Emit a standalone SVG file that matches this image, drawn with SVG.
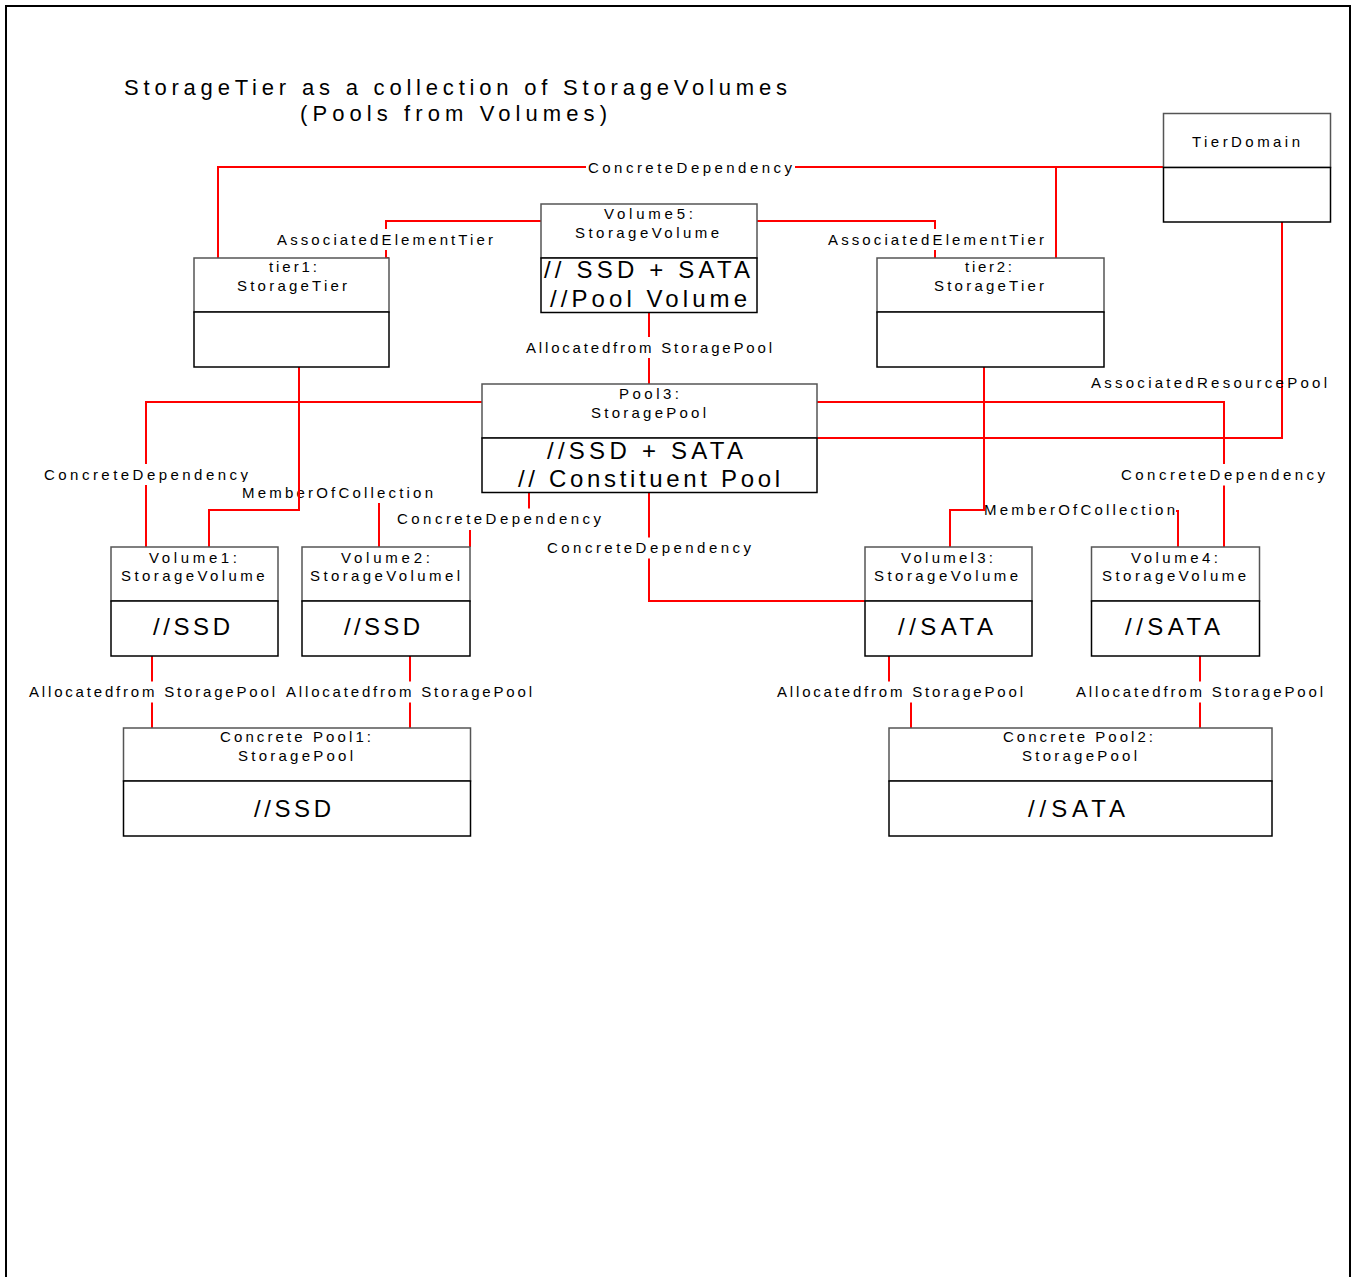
<svg xmlns="http://www.w3.org/2000/svg" width="1352" height="1277" viewBox="0 0 1352 1277">
<style>
.hdr{fill:#fff;stroke:#555;stroke-width:1.5}
.bd{fill:#fff;stroke:#000;stroke-width:1.5}
text{font-family:"Liberation Sans",Arial,sans-serif;font-size:15px;fill:#000}
.b{font-size:24px}
.ttl{font-size:22px}
.conn{fill:none;stroke:#ff0000;stroke-width:2}
.bg{fill:#fff}
</style>
<rect x="0" y="0" width="1352" height="1277" fill="#fff"/>
<path d="M6,1277 V6 H1350 V1277" fill="none" stroke="#000" stroke-width="2"/>
<g id="title">
<text class="ttl" x="124" y="95" textLength="663" lengthAdjust="spacing">StorageTier as a collection of StorageVolumes</text>
<text class="ttl" x="300" y="121" textLength="307" lengthAdjust="spacing">(Pools from Volumes)</text>
</g>
<g id="connectors">
<g id="c1"><path class="conn" d="M218,258 V167 H1163"/><path class="conn" d="M1056,258 V167"/>
<rect class="bg" x="586" y="157" width="209" height="21"/>
<text x="588" y="172.5" textLength="204" lengthAdjust="spacing">ConcreteDependency</text></g>
<g id="c3"><path class="conn" d="M541,221 H386 V258 H389"/>
<rect class="bg" x="275" y="229" width="220" height="21"/>
<text x="277" y="245" textLength="216" lengthAdjust="spacing">AssociatedElementTier</text></g>
<g id="c4"><path class="conn" d="M757,221 H935 V258"/>
<rect class="bg" x="826" y="229" width="220" height="21"/>
<text x="828" y="245" textLength="216" lengthAdjust="spacing">AssociatedElementTier</text></g>
<g id="c5"><path class="conn" d="M649,312 V384"/>
<rect class="bg" x="524" y="337" width="250" height="21"/>
<text x="526" y="353" textLength="246" lengthAdjust="spacing">Allocatedfrom StoragePool</text></g>
<g id="c6"><path class="conn" d="M1282,222 V438 H817"/>
<text x="1091" y="388" textLength="236" lengthAdjust="spacing">AssociatedResourcePool</text></g>
<g id="c7"><path class="conn" d="M482,402 H146 V547"/>
<rect class="bg" x="42" y="464" width="208" height="21"/>
<text x="44" y="480" textLength="204" lengthAdjust="spacing">ConcreteDependency</text></g>
<g id="c8"><path class="conn" d="M320,490 H379 V547"/>
<rect class="bg" x="240" y="482" width="195" height="21"/>
<text x="242" y="497.7" textLength="191" lengthAdjust="spacing">MemberOfCollection</text></g>
<g id="c9"><path class="conn" d="M299,367 V510 H209 V547"/></g>
<g id="c10"><path class="conn" d="M529,492 V518 H470 V547"/>
<rect class="bg" x="395" y="508.5" width="208" height="21.5"/>
<text x="397" y="524" textLength="204" lengthAdjust="spacing">ConcreteDependency</text></g>
<g id="c11"><path class="conn" d="M649,492 V601 H865"/>
<rect class="bg" x="545" y="537.5" width="208" height="21"/>
<text x="547" y="552.7" textLength="204" lengthAdjust="spacing">ConcreteDependency</text></g>
<g id="c12"><path class="conn" d="M1100,511 H1178 V547"/>
<rect class="bg" x="985" y="499" width="191" height="21"/>
<text x="984" y="515" textLength="191" lengthAdjust="spacing">MemberOfCollection</text></g>
<g id="c13"><path class="conn" d="M984,367 V510 H950 V547"/></g>
<g id="c14"><path class="conn" d="M817,402 H1224 V547"/>
<rect class="bg" x="1119" y="464" width="208" height="21.5"/>
<text x="1121" y="480" textLength="204" lengthAdjust="spacing">ConcreteDependency</text></g>
<g id="c15"><path class="conn" d="M152,656 V728"/>
<rect class="bg" x="27" y="681.5" width="250" height="21"/>
<text x="29" y="697" textLength="246" lengthAdjust="spacing">Allocatedfrom StoragePool</text></g>
<g id="c16"><path class="conn" d="M410,656 V728"/>
<rect class="bg" x="284" y="681.5" width="250" height="21"/>
<text x="286" y="697" textLength="246" lengthAdjust="spacing">Allocatedfrom StoragePool</text></g>
<g id="c17"><path class="conn" d="M889,656 V690 H911 V728"/>
<rect class="bg" x="775" y="681.5" width="250" height="21"/>
<text x="777" y="697" textLength="246" lengthAdjust="spacing">Allocatedfrom StoragePool</text></g>
<g id="c18"><path class="conn" d="M1200,656 V728"/>
<rect class="bg" x="1074" y="681.5" width="251" height="21"/>
<text x="1076" y="697" textLength="247" lengthAdjust="spacing">Allocatedfrom StoragePool</text></g>
</g>
<g id="TierDomain"><rect class="hdr" x="1163.5" y="113.5" width="167" height="54"/><rect class="bd" x="1163.5" y="167.5" width="167" height="54.5"/>
<text x="1192" y="147" textLength="108" lengthAdjust="spacing">TierDomain</text></g>
<g id="Volume5"><rect class="hdr" x="541" y="204" width="216" height="54"/><rect class="bd" x="541" y="258" width="216" height="54.5"/>
<text x="604" y="219" textLength="89" lengthAdjust="spacing">Volume5:</text>
<text x="575" y="238" textLength="144" lengthAdjust="spacing">StorageVolume</text>
<text class="b" x="544" y="278" textLength="206" lengthAdjust="spacing">// SSD + SATA</text>
<text class="b" x="550" y="306.5" textLength="197" lengthAdjust="spacing">//Pool Volume</text></g>
<g id="tier1"><rect class="hdr" x="194" y="258" width="195" height="54"/><rect class="bd" x="194" y="312" width="195" height="55"/>
<text x="269" y="272" textLength="48" lengthAdjust="spacing">tier1:</text>
<text x="237" y="291" textLength="110" lengthAdjust="spacing">StorageTier</text></g>
<g id="tier2"><rect class="hdr" x="877" y="258" width="227" height="54"/><rect class="bd" x="877" y="312" width="227" height="55"/>
<text x="965" y="272" textLength="47" lengthAdjust="spacing">tier2:</text>
<text x="934" y="291" textLength="110" lengthAdjust="spacing">StorageTier</text></g>
<g id="Pool3"><rect class="hdr" x="482" y="384" width="335" height="54"/><rect class="bd" x="482" y="438" width="335" height="54.5"/>
<text x="619" y="399" textLength="60" lengthAdjust="spacing">Pool3:</text>
<text x="591" y="418" textLength="115" lengthAdjust="spacing">StoragePool</text>
<text class="b" x="547" y="459" textLength="196" lengthAdjust="spacing">//SSD + SATA</text>
<text class="b" x="518" y="487" textLength="262" lengthAdjust="spacing">// Constituent Pool</text></g>
<g id="Volume1"><rect class="hdr" x="111" y="547" width="167" height="54"/><rect class="bd" x="111" y="601" width="167" height="55"/>
<text x="149" y="562.7" textLength="88" lengthAdjust="spacing">Volume1:</text>
<text x="121" y="581.3" textLength="143.5" lengthAdjust="spacing">StorageVolume</text>
<text class="b" x="153" y="635" textLength="77" lengthAdjust="spacing">//SSD</text></g>
<g id="Volume2"><rect class="hdr" x="302" y="547" width="168" height="54"/><rect class="bd" x="302" y="601" width="168" height="55"/>
<text x="341" y="562.7" textLength="89" lengthAdjust="spacing">Volume2:</text>
<text x="310" y="581.3" textLength="150" lengthAdjust="spacing">StorageVolumel</text>
<text class="b" x="344" y="635" textLength="76" lengthAdjust="spacing">//SSD</text></g>
<g id="Volumel3"><rect class="hdr" x="865" y="547" width="167" height="54"/><rect class="bd" x="865" y="601" width="167" height="55"/>
<text x="901" y="562.7" textLength="92" lengthAdjust="spacing">Volumel3:</text>
<text x="874" y="581.3" textLength="144" lengthAdjust="spacing">StorageVolume</text>
<text class="b" x="898" y="635" textLength="95" lengthAdjust="spacing">//SATA</text></g>
<g id="Volume4"><rect class="hdr" x="1091.5" y="547" width="168" height="54"/><rect class="bd" x="1091.5" y="601" width="168" height="55"/>
<text x="1131" y="562.7" textLength="87" lengthAdjust="spacing">Volume4:</text>
<text x="1102" y="581.3" textLength="144" lengthAdjust="spacing">StorageVolume</text>
<text class="b" x="1125" y="635" textLength="95" lengthAdjust="spacing">//SATA</text></g>
<g id="ConcretePool1"><rect class="hdr" x="123.5" y="728" width="347" height="53"/><rect class="bd" x="123.5" y="781" width="347" height="55"/>
<text x="220" y="742" textLength="151" lengthAdjust="spacing">Concrete Pool1:</text>
<text x="238" y="761" textLength="115" lengthAdjust="spacing">StoragePool</text>
<text class="b" x="254" y="817" textLength="77" lengthAdjust="spacing">//SSD</text></g>
<g id="ConcretePool2"><rect class="hdr" x="889" y="728" width="383" height="53"/><rect class="bd" x="889" y="781" width="383" height="55"/>
<text x="1003" y="742" textLength="150" lengthAdjust="spacing">Concrete Pool2:</text>
<text x="1022" y="761" textLength="115" lengthAdjust="spacing">StoragePool</text>
<text class="b" x="1028" y="817" textLength="97" lengthAdjust="spacing">//SATA</text></g>
</svg>
